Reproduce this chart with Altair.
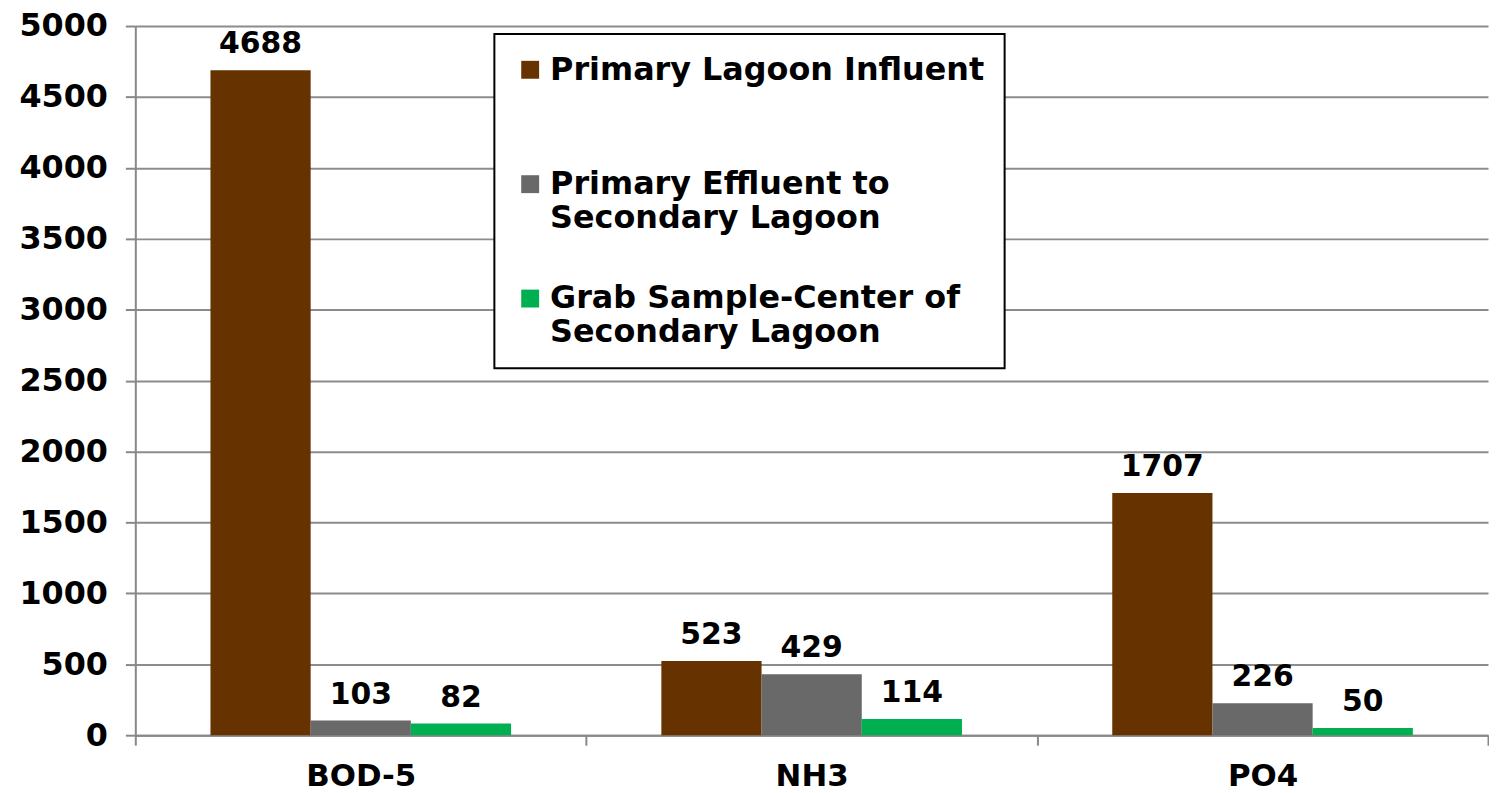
import altair as alt
import pandas as pd

categories = ["BOD-5", "NH3", "PO4"]
series = [
    "Primary Lagoon Influent",
    "Primary Effluent to Secondary Lagoon",
    "Grab Sample-Center of Secondary Lagoon",
]
influent = [4688, 523, 1707]
effluent = [103, 429, 226]
grab = [82, 114, 50]
colors = ["#663300", "#696969", "#00B050"]
y_ticks = [0, 500, 1000, 1500, 2000, 2500, 3000, 3500, 4000, 4500, 5000]

rows = []
for i, c in enumerate(categories):
    for s, vals in zip(series, [influent, effluent, grab]):
        rows.append({"param": c, "series": s, "value": vals[i]})
df = pd.DataFrame(rows)

FONT = "DejaVu Sans"

x = alt.X(
    "param:N",
    sort=categories,
    title=None,
    scale=alt.Scale(paddingInner=0, paddingOuter=0),
    axis=alt.Axis(
        labelAngle=0,
        tickBand="extent",
        labelFont=FONT,
        labelFontSize=31,
        labelFontWeight="bold",
        labelColor="black",
        labelPadding=17,
        tickSize=10,
        tickColor="#888888",
        tickWidth=2,
        domainColor="#888888",
        domainWidth=2,
        grid=False,
    ),
)
xo = alt.XOffset("series:N", sort=series, scale=alt.Scale(paddingInner=0, paddingOuter=0.75))
y = alt.Y(
    "value:Q",
    title=None,
    scale=alt.Scale(domain=[0, 5000], nice=False),
    axis=alt.Axis(
        values=y_ticks,
        format="d",
        labelFont=FONT,
        labelFontSize=32,
        labelFontWeight="bold",
        labelColor="black",
        labelPadding=18,
        tickSize=10,
        tickColor="#888888",
        tickWidth=2,
        domainColor="#888888",
        domainWidth=2,
        gridColor="#8c8c8c",
        gridWidth=2,
    ),
)

label_expr = (
    "datum.label == 'Primary Effluent to Secondary Lagoon' ? ['Primary Effluent to', 'Secondary Lagoon'] : "
    "datum.label == 'Grab Sample-Center of Secondary Lagoon' ? ['Grab Sample-Center of', 'Secondary Lagoon'] : "
    "[datum.label, '']"
)

color = alt.Color(
    "series:N",
    sort=series,
    scale=alt.Scale(domain=series, range=colors),
    legend=alt.Legend(
        title=None,
        orient="none",
        legendX=361,
        legendY=8,
        symbolType="square",
        symbolSize=324,
        symbolStrokeWidth=0,
        labelFont=FONT,
        labelFontSize=32,
        labelFontWeight="bold",
        labelColor="black",
        labelLimit=700,
        labelExpr=label_expr,
        rowPadding=49,
        padding=20,
        strokeColor="black",
        fillColor="white",
    ),
)

bars = alt.Chart(df).mark_bar(strokeWidth=0).encode(x=x, xOffset=xo, y=y, color=color)
texts = alt.Chart(df).mark_text(
    baseline="alphabetic", dy=-17, font=FONT, fontSize=30, fontWeight="bold", color="black"
).encode(x=x, xOffset=xo, y=y, text=alt.Text("value:Q"))

chart = (
    alt.layer(bars, texts)
    .properties(width=1360, height=713, padding={"left": 10, "top": 0, "right": 0, "bottom": 0}, background="white")
    .configure_view(stroke=None)
    .configure_legend(strokeWidth=2)
)

chart.save("out.html", embed_options={"renderer": "svg", "actions": False})
